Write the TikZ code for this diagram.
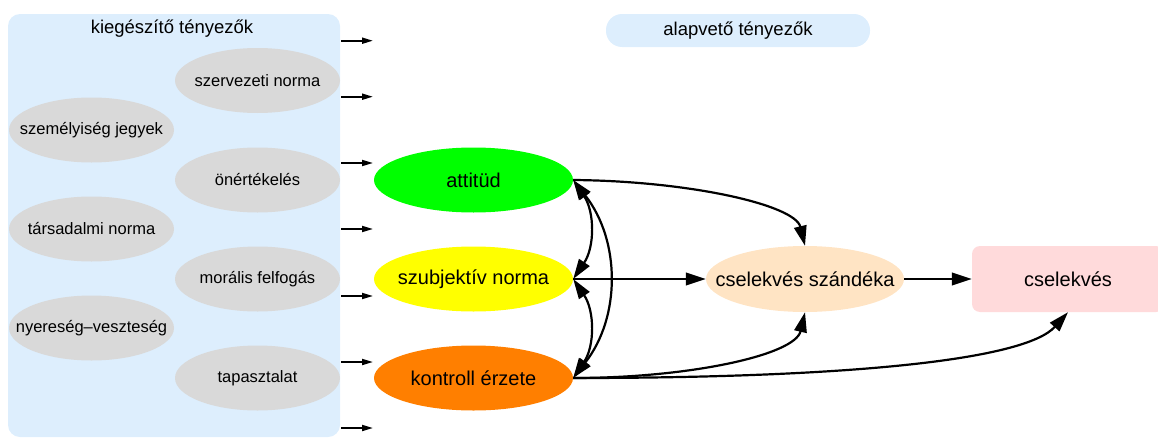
\documentclass[tikz,border=0pt]{standalone}
\usepackage{fontspec}
\setmainfont{Liberation Sans}
\usetikzlibrary{shapes.geometric,arrows.meta}
\definecolor{panelblue}{HTML}{DDEEFD}
\definecolor{cgray}{HTML}{D9D9D9}
\definecolor{attgreen}{HTML}{00FF00}
\definecolor{szubyellow}{HTML}{FFFF00}
\definecolor{kontorange}{HTML}{FF7F00}
\definecolor{cbisque}{HTML}{FFE4C4}
\definecolor{actpink}{HTML}{FFDADB}
\newcommand{\zbox}[1]{\makebox[0pt]{#1}}
\begin{document}
\begin{tikzpicture}[x=1pt,y=-1pt,
  grayellipse/.style={ellipse, fill=cgray, minimum width=165pt, minimum height=65pt, inner sep=0pt, font=\fontsize{16.5}{19}\selectfont},
  mainellipse/.style={ellipse, minimum width=199pt, minimum height=65pt, inner sep=0pt, font=\fontsize{20}{24}\selectfont},
  smallarr/.style={line width=1.8pt, -{Triangle[length=11pt,width=6pt]}},
  bigarr/.style={line width=2.2pt, -{Triangle[length=20pt,width=12.5pt]}},
  botharr/.style={line width=2.2pt, {Triangle[length=20pt,width=12.5pt]}-{Triangle[length=20pt,width=12.5pt]}},
  titlefont/.style={font=\fontsize{18.5}{22}\selectfont}]
\useasboundingbox (0,0) rectangle (1158,439);
% left panel
\node (panel) [fill=panelblue, rounded corners=12pt, minimum width=332pt, minimum height=423pt, inner sep=0pt] at (174,225.5) {};
\node (ptitle) [titlefont, inner sep=0pt] at (172,29) {kiegészítő tényezők};
% gray ellipses
\node (g1) [grayellipse] at (257.5,80.5) {\zbox{szervezeti norma}};
\node (g2) [grayellipse] at (91.5,130) {\zbox{személyiség jegyek}};
\node (g3) [grayellipse] at (257.5,180) {\zbox{önértékelés}};
\node (g4) [grayellipse] at (91.5,229) {\zbox{társadalmi norma}};
\node (g5) [grayellipse] at (257.5,279) {\zbox{morális felfogás}};
\node (g6) [grayellipse] at (91.5,328) {\zbox{nyereség–veszteség}};
\node (g7) [grayellipse] at (257.5,378) {\zbox{tapasztalat}};
% small arrows
\foreach \yy [count=\i] in {40.7,96.7,163,229,296,362,428} {
  \coordinate (sa\i) at (341,\yy);
  \coordinate (sb\i) at (373,\yy);
  \draw[smallarr] (sa\i) -- (sb\i);
}
% right title
\node (alap) [fill=panelblue, rounded corners=16pt, minimum width=264pt, minimum height=33pt, inner sep=0pt, titlefont] at (738,30.5) {alapvető tényezők};
% main nodes
\node (att) [mainellipse, fill=attgreen] at (473.5,180) {\zbox{attitüd}};
\node (szub) [mainellipse, fill=szubyellow] at (473.5,279) {\zbox{szubjektív norma}};
\node (kont) [mainellipse, fill=kontorange] at (473.5,378) {\zbox{kontroll érzete}};
\node (szand) [ellipse, fill=cbisque, minimum width=198pt, minimum height=66pt, inner sep=0pt, font=\fontsize{20}{24}\selectfont] at (805,279) {\zbox{cselekvés szándéka}};
\node (act) [fill=actpink, rounded corners=8pt, minimum width=192pt, minimum height=66pt, inner sep=0pt, font=\fontsize{20}{24}\selectfont] at (1068,279) {cselekvés};
% connectors
\draw[bigarr] (att.east) .. controls (690,181) and (795,205) .. (szand.north);
\draw[bigarr] (szub.east) -- (szand.west);
\draw[bigarr] (szand.east) -- (act.west);
\draw[bigarr] (kont.east) .. controls (690,378) and (795,355) .. (szand.south);
\draw[bigarr] (kont.east) .. controls (850,378) and (1025,360) .. (act.south);
\draw[botharr] (att.east) to[bend left=34] (szub.east);
\draw[botharr] (szub.east) to[bend left=34] (kont.east);
\draw[botharr] (att.east) to[bend left=38] (kont.east);
\end{tikzpicture}
\end{document}
